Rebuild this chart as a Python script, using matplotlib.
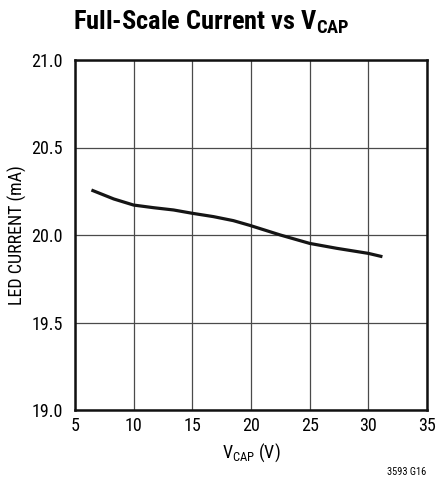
import numpy as np
import matplotlib
matplotlib.use('Agg')
import matplotlib.pyplot as plt

# curve
vcap = [6.4, 8.3, 10.0, 11.7, 13.4, 15.0, 16.8, 18.5, 19.9, 22.5, 25.0, 27.3, 30.0, 31.2]
led_ma = [20.257, 20.206, 20.171, 20.156, 20.143, 20.124, 20.105, 20.082, 20.055,
          20.0, 19.952, 19.924, 19.895, 19.876]

xticks = [5, 10, 15, 20, 25, 30, 35]
yticks = [19.0, 19.5, 20.0, 20.5, 21.0]

fam = ['Roboto Condensed', 'DejaVu Sans']
plt.rcParams['font.family'] = fam
plt.rcParams['mathtext.fontset'] = 'custom'
plt.rcParams['mathtext.rm'] = 'Roboto Condensed'
plt.rcParams['mathtext.it'] = 'Roboto Condensed'
plt.rcParams['mathtext.bf'] = 'Roboto Condensed:bold'

fig = plt.figure(figsize=(4.37, 4.78), dpi=100)
ax = fig.add_axes([75/437, 1-410/478, 352/437, 350/478])

ax.plot(vcap, led_ma, color='#151515', lw=2.3, solid_capstyle='butt', solid_joinstyle='round')

ax.set_xlim(5, 35)
ax.set_ylim(19.0, 21.0)
ax.set_xticks(xticks)
ax.set_yticks(yticks)
ax.set_yticklabels(['%.1f' % y for y in yticks])
ax.grid(True, color='#4a4a4a', lw=0.9)
ax.set_axisbelow(True)
ax.tick_params(axis='y', length=0, labelsize=13, pad=9)
ax.tick_params(axis='x', length=0, labelsize=13, pad=5)
for s in ax.spines.values():
    s.set_linewidth(1.8)
    s.set_color('#111111')

ax.set_xlabel(r'V$_{\mathrm{CAP}}$ (V)', fontsize=13, labelpad=5)
ax.set_ylabel('LED CURRENT (mA)', fontsize=13, labelpad=3)

fig.text(73/437, 1-22/478, r'Full-Scale Current vs V$_{\mathbf{CAP}}$',
         fontsize=19, fontweight='bold', ha='left', va='center')
fig.text(426/437, 1-472/478, '3593 G16', fontsize=7.5, ha='right', va='center')

fig.savefig('out.png', dpi=100)
